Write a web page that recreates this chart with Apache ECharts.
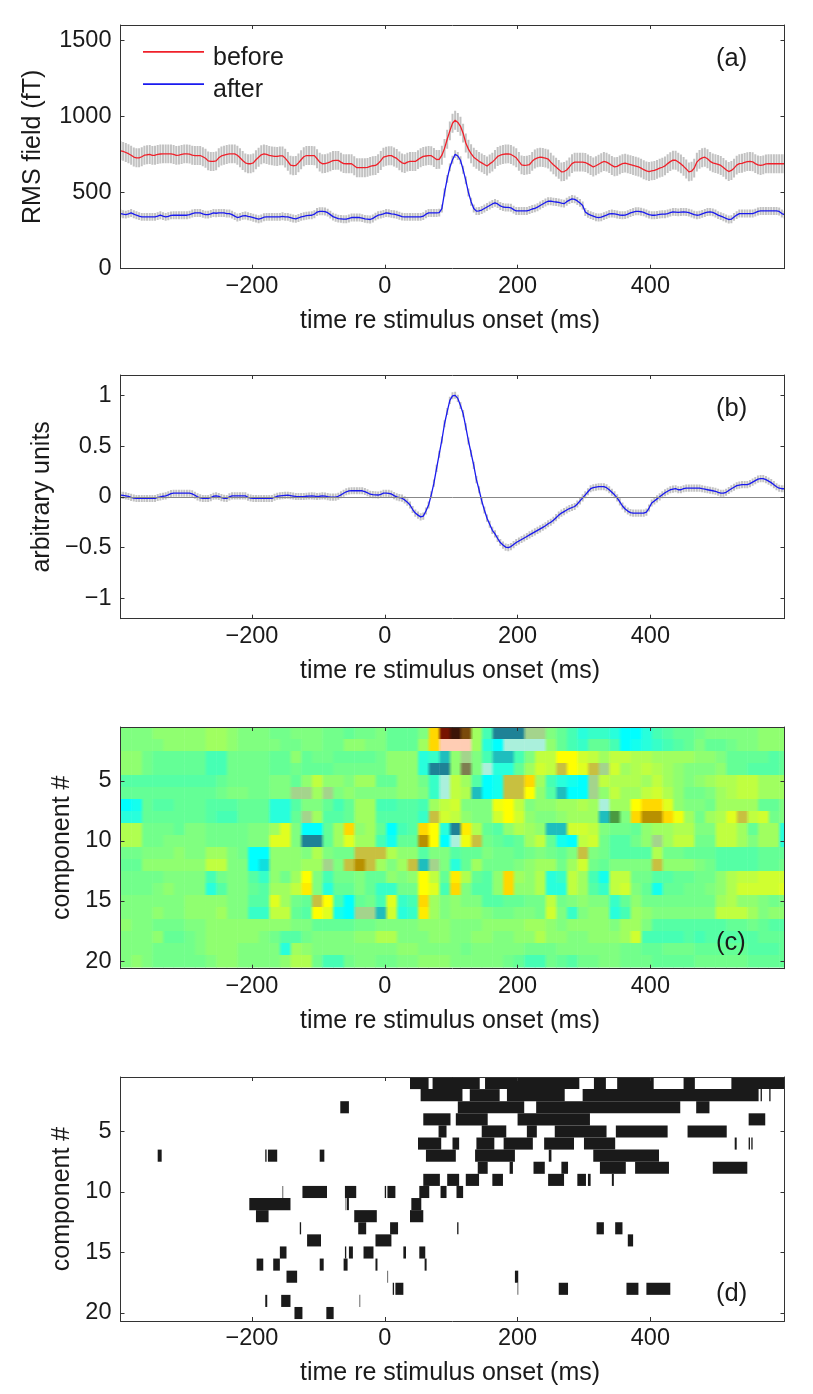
<!DOCTYPE html>
<html>
<head>
<meta charset="utf-8">
<style>
  html, body { margin: 0; padding: 0; background: #fff; }
  #chart { width: 813px; height: 1394px; }
</style>
<script src="https://cdn.jsdelivr.net/npm/echarts@6/dist/echarts.min.js"></script>
</head>
<body>
<div id="chart"></div>
<script>
// time axis of every panel, ms
const timeMin = -398, timeMax = 602
const timeStep = 4
const timeTicks = [-200, 0, 200, 400]

// (a) RMS field, fT, one value per 4 ms from -398
const before = [
  774,770,763,755,745,733,728,728,735,745,748,750,744,745,750,753,754,754,754,754,750,744,746,750,754,
  754,752,745,743,743,743,735,725,708,704,704,708,728,740,745,750,754,754,754,745,728,710,695,689,689,
  695,715,732,748,754,750,744,741,738,737,741,741,726,705,680,676,678,695,715,735,743,743,743,742,722,
  700,689,690,695,702,710,711,711,700,690,689,689,689,676,663,663,663,663,665,672,676,678,690,710,732,
  738,742,742,733,724,708,695,690,700,704,704,704,716,728,737,740,743,742,730,717,718,745,790,850,905,
  955,975,960,935,890,825,785,755,732,718,705,695,684,674,688,700,718,737,745,750,753,754,750,740,728,
  705,682,678,680,684,705,720,728,732,730,726,720,700,682,667,652,636,638,648,668,690,700,700,700,700,
  697,688,678,668,676,686,696,704,700,690,678,669,672,682,690,693,688,683,678,673,668,660,650,642,638,
  642,645,652,660,666,675,690,703,713,712,700,688,672,655,636,640,660,700,718,728,732,722,705,695,690,
  685,678,665,650,638,645,660,680,690,692,698,703,704,702,690,682,678,682,688,689,689,689,689,689,689,689
]
const after = [
  362,358,355,360,366,358,351,345,340,340,340,340,340,340,345,351,345,340,344,350,351,351,351,351,351,
  351,355,362,366,366,366,360,355,355,360,366,364,366,366,366,362,362,355,345,336,340,347,349,344,340,
  335,330,325,330,338,340,340,340,340,340,340,344,340,340,335,330,327,333,340,344,348,350,351,358,372,
  377,377,375,368,355,342,335,329,327,325,325,330,336,336,336,336,332,327,325,323,330,342,351,355,360,
  366,364,360,358,354,348,342,340,340,340,340,340,340,340,345,358,366,366,366,366,368,395,500,590,665,
  715,752,740,712,650,580,500,440,395,378,379,385,395,405,415,425,432,425,412,405,402,402,400,388,379,
  379,379,379,379,385,392,396,404,415,425,435,443,443,440,438,435,430,427,440,450,458,455,445,432,415,
  372,360,352,345,338,336,338,345,352,360,362,360,356,352,351,352,358,366,372,377,377,374,370,362,355,
  351,351,353,356,358,358,362,368,373,372,370,372,373,372,368,362,355,351,354,360,366,372,373,370,362,
  352,345,338,330,323,325,340,352,362,362,362,362,362,362,368,376,379,379,379,379,379,379,379,376,362,355
]
const beforeErr = 62
const afterErr = 26

// (b) arbitrary units
const response = [
  .016,.014,.01,.004,-.005,-.012,-.016,-.016,-.016,-.016,-.016,-.016,-.016,-.016,-.006,0,.006,.01,.02,.032,.036,.036,.036,.036,.036,
  .036,.036,.03,.016,0,-.01,-.016,-.016,-.016,-.008,.006,.01,.004,-.008,-.014,-.016,0,.01,.01,.01,.01,.01,.01,-.004,-.012,
  -.016,-.016,-.016,-.016,-.016,-.016,-.016,-.016,-.004,.006,.01,.012,.014,.016,.012,.008,.004,.003,.003,.003,.006,.008,.01,.007,.003,
  .006,.01,.008,.002,-.003,-.003,-.003,.006,.02,.035,.05,.058,.06,.06,.06,.06,.06,.052,.04,.026,.022,.02,.018,.025,.036,
  .036,.034,.028,.012,0,-.008,-.013,-.03,-.052,-.08,-.125,-.16,-.18,-.197,-.19,-.14,-.08,.02,.135,.28,.42,.56,.72,.84,.95,
  .995,1,.97,.9,.82,.69,.55,.43,.31,.17,.07,-.04,-.13,-.21,-.27,-.33,-.365,-.41,-.45,-.475,-.495,-.5,-.49,-.47,-.45,
  -.435,-.42,-.405,-.39,-.375,-.36,-.345,-.33,-.315,-.3,-.285,-.265,-.25,-.23,-.205,-.18,-.16,-.145,-.13,-.115,-.105,-.095,-.07,-.04,-.01,
  .02,.05,.08,.09,.095,.1,.1,.1,.09,.07,.045,.02,-.01,-.05,-.09,-.12,-.14,-.155,-.16,-.16,-.16,-.16,-.16,-.15,-.11,
  -.06,-.04,-.02,0,.02,.04,.055,.07,.076,.08,.07,.07,.08,.086,.086,.086,.086,.086,.086,.08,.075,.07,.065,.06,.055,
  .045,.036,.036,.045,.063,.08,.095,.11,.115,.12,.12,.12,.13,.145,.16,.175,.18,.18,.17,.155,.14,.12,.1,.085,.08,.08
]
const responseErr = .035

// (c) component weights, one row per component, one column per 16 ms from -398
const heatStep = 16
const heatRows = [
  [0,0,0,.5,.5,.5,.5,.5,1,1,.5,0,0,0,-.5,-.5,0,0,0,-.5,-.5,-1,-.5,-.5,0,-1,-1,-1,0,5,9,10,8,1,-2,-6,-6,-6,-8,-8,0,-1,-2,-3,-2.5,-2.5,-3,-4,-4,-3,-2,-1.5,-1,-1,-.5,0,0,0,0,0,.5,.5,.5],
  [0,0,0,0,.5,.5,.5,.5,1,1,.5,0,0,0,0,-.5,-.5,0,0,-.5,-.5,.5,.5,0,0,-1,-1,-1,1,5,11,11,11,1,-3,-4,-7,-7,-7,-7,.5,-1,-2,-2.5,-1,-1,-2,-4,-3.5,-3,-2.5,-2,-1.5,-1,0,-1,-1,-.5,0,0,.5,.5,.5],
  [.5,.5,-.5,-1,-1,-1,-1,-1,-2,-2,-.5,-.5,-.5,-.5,-1,-1,.5,-1,-.5,-.5,-1,-1,-1,-1,-.5,.5,.5,.5,-3,-2.5,-5,.5,-8,0,-2,-5,-5,-2,0,2,2,4,4,2.5,2,1,2,2,1.5,1.5,1,1,1,1,.5,.5,0,-1,-1,-1,-1,-1.5,-1],
  [.5,.5,-.5,-1,-1,-1,-1,-1,-2,-2,-.5,-.5,-.5,-.5,-1,-1,-.5,-1,-1,-1,-.5,-.5,-.5,-.5,-.5,.5,.5,.5,-3,-6,-6,.5,-9,0,-7,-3,-3,-1,1,2.5,2,6,4,3,6,-8,2.5,1,1.5,2,1.5,1,.5,0,0,0,.5,-1,-1,-1.5,-1.5,-1.5,-1],
  [-1.5,-1.5,-1.5,-1.5,-1.5,-1.5,-1.5,-1.5,-1.5,-1,-.5,-.5,-.5,-.5,0,0,-1,.5,2,.5,.5,0,1,1,-1,-1,.5,.5,-.5,-2.5,-7,2,1,-1.5,-4,-3.5,6,6,5,1,-2,-3,-3.5,-4,-8,2,1.5,1.5,1.5,1,2,1,.5,0,.5,1,1.5,1.5,2,2,1,1,1],
  [-1,-1,-1,-1,-1,-1,-1,-1,-1,-.5,0,0,-.5,-.5,0,0,-8,-8,1,-8,0,.5,0,0,0,0,.5,.5,0,-2.5,-7,2,1.5,-5,-4,-3.5,6,6,4,.5,-1.5,-5,-4,-4,-8,.5,2,1,1,2,2.5,1.5,.5,-.5,-.5,0,1,1.5,2,2,1,1,1],
  [-4,-3.5,-1,-1.5,-1.5,-1,-1,-1,-1.5,-1.5,-1.5,-1,-1,-1,-3,-3,-1.5,0,0,-1,-2,-1,1,1,-2,-2,-1.5,-1.5,-2,1,2,2.5,0,0,0,3.5,4,2,0,.5,.5,1,1,1.5,1,-7,1,1,4,5,5,3,.5,0,0,-.5,1,1,1,1,-1,-1,0],
  [-3,-3,-1,-1,-1,-1,-1,-1,-1.5,-2,-2,-1,-1,-1,-3,-3,-1,-8,1,-1.5,-1.5,-1,1,1,-1.5,-1.5,-1.5,-1.5,-2.5,6,2.5,2,.5,0,0,2.5,4,2.5,.5,0,0,.5,1,1,1,-5,-10,0,5,7,7,5,3.5,1,-.5,1,1.5,3,6,2,2.5,-.5,0],
  [1.5,1.5,-.5,-.5,-.5,-1,0,0,-.5,-.5,-.5,-.5,0,0,1,3,0,-4,-4,-1,1,5,.5,1,-1,-4,-2,-1.5,5,4,-3,-6,4.5,1.5,-1,-1.5,.5,1.5,1,.5,-5,-5,2.5,2.5,2,0,-.5,-.5,-1,.5,1,1,1.5,1.5,0,0,2,2,1,-1,1,1,-3],
  [1.5,1.5,-.5,-.5,0,0,0,0,-.5,-.5,-.5,-.5,0,0,3,3,0,-6,-6,-1,1,3,1,1,-2,-3.5,-1,-1,7,4,-4,-7,3.5,6,-.5,-1,-1.5,-1,1,2,-1,-3.5,-4,2,2.5,-.5,-1.5,-1.5,-.5,.5,-8,1,2,2,-.5,-.5,2,2,1,0,1,1,-3],
  [-.5,-.5,0,0,0,.5,0,0,1,1,0,-.5,-4,-4,.5,.5,.5,0,1.5,0,-.5,-.5,6,6,6,1.5,.5,.5,-1.5,0,0,-1.5,-1,-1,0,-.5,-.5,-1,-.5,0,-.5,-1,0,6,0,-.5,-1.5,-1.5,-1.5,-1.5,1.5,-.5,-.5,-1,-1,-1,-1.5,-1.5,-1.5,-1.5,-1,-1,-1],
  [-1,-1,.5,.5,.5,.5,.5,.5,2,2,0,0,-4,-4.5,.5,.5,.5,1,1,-8,0,6,7,6,1,0,1,6,-5,-8,0,-3,-1,1,-.5,-.5,-.5,0,.5,1,1,-.5,1,2.5,-.5,-1,0,0,0,0,6,.5,.5,.5,0,-.5,-1.5,-1.5,-1.5,-1.5,-1,-1,-.5],
  [-.5,-.5,-.5,-.5,0,0,0,0,-2,-.5,0,0,-1.5,-2.5,.5,-.5,1,4,0,-2,-.5,-.5,0,-1,-1,.5,0,.5,4,2,-1,4.5,1.5,-1,-1.5,.5,5,1,.5,1.5,-3,-2.5,2,1,-2,-3.5,2,2,-.5,-.5,-1.5,-1.5,-1,-1,-.5,-.5,.5,1.5,2,2,2.5,2.5,2.5],
  [-.5,-.5,-.5,0,.5,0,0,0,-3,-1.5,0,0,-1,-1.5,1,1,2,4.5,0,-3,-1,-1,0,-1,-2.5,-2.5,-.5,-.5,4,3,-2,5,0,-1.5,-1.5,.5,5,.5,.5,1.5,-3,-3,2,1,-1.5,-2.5,2,2.5,0,-1,-3.5,-1,-1,-.5,-.5,0,.5,1.5,2.5,2.5,2.5,2.5,3],
  [0,0,0,0,0,0,.5,.5,.5,.5,0,0,-1.5,-1.5,3,1,-.5,-1,6,4,-2,-4,-1,-.5,-2,3,-2.5,-2,5,1,0,.5,0,0,-1.5,-1.5,-1,-1,-.5,-.5,2,-.5,0,.5,0,0,-2.5,-1,.5,-.5,-.5,-.5,-.5,-.5,-.5,-.5,1,1.5,.5,.5,0,-.5,0],
  [0,0,0,.5,0,0,.5,.5,.5,1,0,0,-2.5,-2.5,2,2,-1,-1.5,4,3,-3.5,-4,-8,-8,-5,2.5,-3,-2.5,4.5,1,0,.5,.5,.5,0,-.5,-.5,0,0,-.5,2.5,0,-2.5,0,.5,.5,-3,-2,1,.5,0,0,0,0,0,0,2,2,2,1,0,.5,.5],
  [.5,0,0,-.5,-.5,-.5,0,0,.5,.5,.5,.5,.5,.5,.5,.5,0,0,-1,-1,-1,-1,-.5,-.5,0,0,0,0,.5,.5,.5,0,0,0,.5,.5,.5,.5,1,1,.5,0,.5,.5,.5,.5,0,1,1,0,-1.5,-1.5,-1.5,-1.5,-1.5,-1.5,-1.5,-1,-1,-.5,-1,-1.5,-1.5],
  [0,0,0,.5,-1,-1,-.5,0,.5,.5,.5,.5,.5,0,-.5,-1.5,-1.5,-.5,0,0,0,0,.5,.5,1.5,1.5,0,0,0,.5,.5,0,0,.5,.5,0,0,.5,.5,1.5,.5,.5,0,0,.5,.5,.5,1,2.5,-2,-2,-2,-2,-1.5,-2,-1.5,-1.5,-1.5,-1.5,-1.5,-1,-1,-1],
  [0,0,0,-.5,-.5,-.5,-.5,0,.5,.5,.5,0,0,0,0,-3,1,.5,0,0,0,0,0,0,0,0,.5,.5,0,0,0,0,-.5,0,0,0,0,0,-.5,-.5,-.5,0,0,0,0,0,0,-.5,-.5,-1,-1,-.5,-.5,-.5,-1,-1,-1,-1,-1,-1.5,-1.5,-1.5,-1],
  [0,.5,0,-.5,-.5,-.5,-.5,-.5,0,.5,.5,0,0,0,0,.5,1.5,1.5,-.5,-2,-2,-.5,0,0,-.5,-.5,0,0,.5,.5,.5,0,0,0,0,0,-.5,-1,-2,-2,-.5,-1,-1.5,-.5,-.5,0,0,-.5,-.5,-.5,-1,-1,-1,-1,-.5,-.5,-.5,-.5,-.5,-1,-1,-1,-1]
]
// colours for heat values -10 .. 11, one per integer
const heatMin = -10, heatMax = 11
const heatColors = ['#4a9a40','#7e7e50','#a4d48c','#aaf0dc','#1e8296','#1ebebe','#00ffff','#28ffdc','#46ffb4','#64ff96','#80ff80',
  '#a0ff60','#c0ff40','#e0ff20','#ffff00','#ffd800','#c8c040','#b89000','#7a4a0a','#781400','#3c1408','#ffcdb4']

// (d) significant time spans per component, ms
const spanRows = [
  [[38,66],[72,143],[151,293],[315,333],[350,405],[450,467],[522,602]],
  [[54,117],[128,173],[184,271],[298,563],[566,568],[579,581]],
  [[-67,-54],[110,210],[228,445],[469,489]],
  [[58,99],[107,155],[200,309],[548,573]],
  [[81,93],[146,183],[214,229],[256,334],[348,426],[456,515]],
  [[50,85],[102,112],[138,165],[179,223],[240,285],[300,347],[527,530],[548,550],[552,554]],
  [[-342,-336],[-180,-178],[-176,-162],[-98,-91],[62,107],[136,196],[247,251],[314,413]],
  [[140,155],[188,193],[224,241],[266,276],[324,363],[377,428],[494,546]],
  [[58,83],[94,112],[122,142],[162,178],[246,270],[290,303],[306,310],[342,345]],
  [[-154,-153],[-124,-87],[-60,-43],[0,2],[4,16],[52,67],[84,93],[108,118]],
  [[-204,-142],[-59,-58],[-57,-54],[40,55]],
  [[-194,-175],[-46,-12],[38,58]],
  [[-128,-126],[-40,-28],[8,20],[109,111],[319,330],[347,358]],
  [[-117,-96],[-14,10],[366,374]],
  [[-158,-148],[-60,-58],[-54,-48],[-32,-17],[28,32],[52,61]],
  [[-193,-183],[-168,-158],[-98,-92],[-62,-56],[-14,-11],[60,63]],
  [[-148,-132],[4,5],[196,201]],
  [[12,14],[16,28],[200,201],[262,276],[364,382],[394,430]],
  [[-180,-177],[-156,-142],[-38,-37]],
  [[-136,-124],[-88,-77]]
]

const fieldTicks = [0, 500, 1000, 1500]
const unitTicks = [-1, -0.5, 0, 0.5, 1]
const componentTicks = [5, 10, 15, 20]

const fontFamily = '"Liberation Sans", Arial, sans-serif'
const fontSize = 25
const tickFontSize = 23.5
const inkColor = '#1a1a1a'
const lineColor = '#333'
const panelTops = [25, 375, 727, 1077]
const panelHeights = [243.7, 243.7, 241.7, 244]

const minusSign = v => String(v).replace('-', '\u2212')

// bottom and left axes carry labels, the top and right copies only repeat the ticks
function xAxes(i) {
  const base = {
    type: 'value', gridIndex: i, min: timeMin, max: timeMax, z: 5,
    axisLine: { show: true, onZero: false, lineStyle: { color: lineColor, width: 1 } },
    axisTick: { show: true, inside: true, length: 4, customValues: timeTicks, lineStyle: { color: lineColor, width: 1 } },
    splitLine: { show: false }
  }
  return [
    Object.assign({}, base, {
      position: 'bottom',
      name: 'time re stimulus onset (ms)', nameLocation: 'middle', nameGap: 40,
      nameTextStyle: { fontFamily, fontSize, color: inkColor, padding: [0, 5, 0, 0] },
      axisLabel: { customValues: timeTicks, margin: 6, fontFamily, fontSize: tickFontSize, color: inkColor, formatter: minusSign }
    }),
    Object.assign({}, base, { position: 'top', axisLabel: { show: false } })
  ]
}

function yAxes(i, min, max, ticks, name, nameGap, inverse) {
  const base = {
    type: 'value', gridIndex: i, min, max, inverse, z: 5,
    axisLine: { show: true, onZero: false, lineStyle: { color: lineColor, width: 1 } },
    axisTick: { show: true, inside: true, length: 4, customValues: ticks, lineStyle: { color: lineColor, width: 1 } },
    splitLine: { show: false }
  }
  return [
    Object.assign({}, base, {
      position: 'left',
      name, nameLocation: 'middle', nameGap,
      nameTextStyle: { fontFamily, fontSize, color: inkColor },
      axisLabel: { customValues: ticks, margin: 9, fontFamily, fontSize: tickFontSize, color: inkColor, formatter: minusSign }
    }),
    Object.assign({}, base, { position: 'right', axisLabel: { show: false } })
  ]
}

// grey error bar at every sample
function errorBars(values, err, i) {
  return {
    type: 'custom', xAxisIndex: i * 2, yAxisIndex: i * 2, silent: true, clip: true, z: 1,
    data: values.map((v, k) => [timeMin + timeStep * k, v - err, v + err]),
    renderItem(params, api) {
      const a = api.coord([api.value(0), api.value(1)])
      const b = api.coord([api.value(0), api.value(2)])
      return { type: 'line', shape: { x1: a[0], y1: a[1], x2: b[0], y2: b[1] }, style: { stroke: '#c2c2c2', lineWidth: 2 } }
    }
  }
}

function meanLine(name, values, color, i, extra) {
  return Object.assign({
    name, type: 'line', xAxisIndex: i * 2, yAxisIndex: i * 2, z: 3, clip: true,
    showSymbol: false, symbol: 'none',
    lineStyle: { color, width: 1.3 }, itemStyle: { color },
    data: values.map((v, k) => [timeMin + timeStep * k, v])
  }, extra)
}

// value, then the neighbours on each side so the cell edges can soften
const heatData = []
heatRows.forEach((row, r) => row.forEach((v, k) => {
  heatData.push([timeMin + heatStep * k, r + 1, v, k > 0 ? row[k - 1] : v, k < row.length - 1 ? row[k + 1] : v])
}))
const heatColor = v => echarts.color.lerp((v - heatMin) / (heatMax - heatMin), heatColors)
const heatMix = (a, b) => echarts.color.lerp(0.5, [heatColor(a), heatColor(b)])

const spanData = []
spanRows.forEach((row, r) => row.forEach(s => spanData.push([s[0], s[1], r + 1])))

function letter(text, top) {
  return { text, left: 711, top, textStyle: { fontFamily, fontSize: 25.5, fontWeight: 'normal', color: inkColor } }
}

const option = {
  animation: false,
  backgroundColor: '#fff',
  title: [letter('(a)', 41), letter('(b)', 391), letter('(c)', 925), letter('(d)', 1276)],
  legend: {
    data: ['before', 'after'], orient: 'vertical', left: 138, top: 39, padding: 5,
    itemWidth: 61, itemHeight: 14, itemGap: 4.3, selectedMode: false, symbolKeepAspect: false,
    // the empty second subpath keeps the icon box full height, so the line sits above the text centre
    icon: 'path://M0,14 L100,14 L100,24 L0,24 Z M0,100 L0,100 Z',
    textStyle: { fontFamily, fontSize, color: inkColor, height: 28, lineHeight: 28, padding: [0, 0, 0, 4] }
  },
  grid: panelTops.map((top, i) => ({ left: 120.5, width: 664, top, height: panelHeights[i], containLabel: false })),
  xAxis: [].concat(xAxes(0), xAxes(1), xAxes(2), xAxes(3)),
  yAxis: [].concat(
    yAxes(0, 0, 1600, fieldTicks, 'RMS field (fT)', 75),
    yAxes(1, -1.2, 1.2, unitTicks, 'arbitrary units', 53),
    yAxes(2, 0.5, 20.64, componentTicks, 'component #', 43, true),
    yAxes(3, 0.5, 20.66, componentTicks, 'component #', 43, true)
  ),
  series: [
    errorBars(before, beforeErr, 0),
    errorBars(after, afterErr, 0),
    meanLine('before', before, '#f0202a', 0),
    meanLine('after', after, '#1a1aef', 0),
    errorBars(response, responseErr, 1),
    {
      type: 'custom', xAxisIndex: 4, yAxisIndex: 4, silent: true, clip: true,
      data: heatData,
      renderItem(params, api) {
        const v = api.value(2)
        const a = api.coord([api.value(0), api.value(1) - 0.5])
        const b = api.coord([api.value(0) + heatStep, api.value(1) + 0.5])
        const fill = new echarts.graphic.LinearGradient(0, 0, 1, 0, [
          { offset: 0, color: heatMix(api.value(3), v) },
          { offset: 0.22, color: heatColor(v) },
          { offset: 0.78, color: heatColor(v) },
          { offset: 1, color: heatMix(v, api.value(4)) }
        ])
        return { type: 'rect', shape: { x: a[0], y: a[1], width: b[0] - a[0] + 0.5, height: b[1] - a[1] + 0.5 }, style: { fill } }
      }
    },
    {
      type: 'custom', xAxisIndex: 6, yAxisIndex: 6, silent: true, clip: true,
      data: spanData,
      renderItem(params, api) {
        const a = api.coord([api.value(0), api.value(2) - 0.5])
        const b = api.coord([api.value(1), api.value(2) + 0.5])
        return { type: 'rect', shape: { x: a[0], y: a[1], width: b[0] - a[0], height: b[1] - a[1] }, style: { fill: inkColor } }
      }
    },
    meanLine('response', response, '#1a1aef', 1, {
      markLine: {
        silent: true, symbol: 'none', label: { show: false },
        lineStyle: { color: '#888', type: 'solid', width: 1 },
        data: [{ yAxis: 0 }]
      }
    })
  ]
}

const myChart = echarts.init(document.getElementById('chart'), null, { renderer: 'canvas' })
myChart.setOption(option)
</script>
</body>
</html>
